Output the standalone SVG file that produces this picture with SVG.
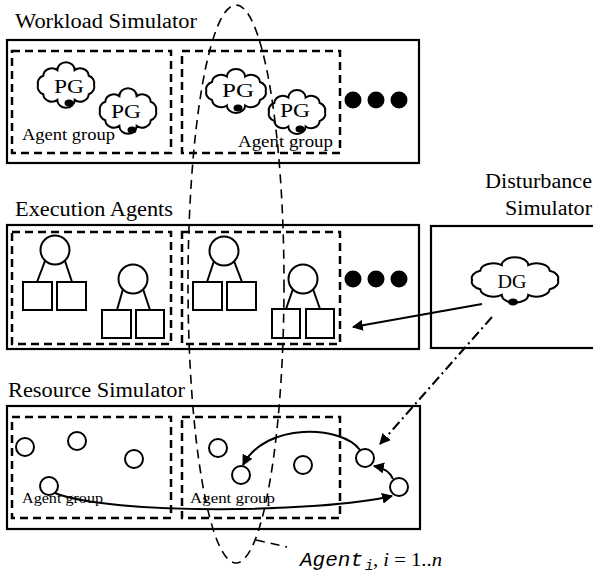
<svg xmlns="http://www.w3.org/2000/svg" xmlns:xlink="http://www.w3.org/1999/xlink" width="593" height="574" viewBox="0 0 593 574">
<style>
.box{fill:none;stroke:#000;stroke-width:2.2}
.grp{fill:none;stroke:#000;stroke-width:2.5;stroke-dasharray:8,5}
.title{font-family:"Liberation Serif","Times New Roman",serif;font-size:20px;fill:#000}
.lbl{font-family:"Liberation Serif","Times New Roman",serif;font-size:16px;fill:#000}
.pg{font-family:"Liberation Serif","Times New Roman",serif;font-size:18px;fill:#000;text-anchor:middle}
.dot{fill:#000}
.nd{fill:#fff;stroke:#000;stroke-width:2}
.ln{stroke:#000;stroke-width:2;fill:none}
.res{fill:#fff;stroke:#000;stroke-width:2}
.conn{fill:none;stroke:#000;stroke-width:2}
.cloud{fill:#fff;stroke:#000;stroke-width:2;vector-effect:non-scaling-stroke}
</style>
<defs>
<path id="cloud" class="cloud" d="M26,0 A8,8 0 0 1 21.03,9.4 A8,8 0 0 1 8.03,15.22 A8,8 0 0 1 -8.03,15.22 A8,8 0 0 1 -21.03,9.4 A8,8 0 0 1 -26,0 A8,8 0 0 1 -21.03,-9.4 A8,8 0 0 1 -8.03,-15.22 A8,8 0 0 1 8.03,-15.22 A8,8 0 0 1 21.03,-9.4 A8,8 0 0 1 26,0 Z"/>
<marker id="arr" viewBox="0 0 10 10" refX="9" refY="5" markerWidth="5.5" markerHeight="5.5" orient="auto" markerUnits="strokeWidth">
<path d="M0,0 L10,5 L0,10 Z" fill="#000"/>
</marker>
</defs>
<rect width="593" height="574" fill="#fff"/>

<g id="workload-simulator">
<text class="title" x="15" y="28" textLength="182" lengthAdjust="spacingAndGlyphs">Workload Simulator</text>
<rect class="box" x="7" y="40" width="412" height="123"/>
<g id="ws-group-1">
<rect class="grp" x="12" y="51" width="159" height="102"/>
<use xlink:href="#cloud" transform="translate(66,85) scale(1.08,0.98)"/>
<ellipse cx="69" cy="103" rx="4.5" ry="3.5" class="dot"/>
<text class="pg" x="69" y="93" textLength="30" lengthAdjust="spacingAndGlyphs">PG</text>
<use xlink:href="#cloud" transform="translate(128,111) scale(1.08,0.98)"/>
<ellipse cx="132" cy="130" rx="4.5" ry="3.5" class="dot"/>
<text class="pg" x="126" y="118" textLength="30" lengthAdjust="spacingAndGlyphs">PG</text>
<text class="lbl" x="22" y="140" textLength="93" lengthAdjust="spacingAndGlyphs">Agent group</text>
</g>
<g id="ws-group-2">
<rect class="grp" x="182" y="51" width="158" height="102"/>
<use xlink:href="#cloud" transform="translate(236,91) scale(1.14,0.95)"/>
<ellipse cx="238" cy="108" rx="4.5" ry="3.5" class="dot"/>
<text class="pg" x="238" y="97" textLength="32" lengthAdjust="spacingAndGlyphs">PG</text>
<use xlink:href="#cloud" transform="translate(297,112) scale(1.08,0.95)"/>
<ellipse cx="300" cy="129" rx="4.5" ry="3.5" class="dot"/>
<text class="pg" x="295" y="117" textLength="30" lengthAdjust="spacingAndGlyphs">PG</text>
<text class="lbl" x="238" y="147" textLength="95" lengthAdjust="spacingAndGlyphs">Agent group</text>
</g>
<circle class="dot" cx="353" cy="100" r="8.5"/>
<circle class="dot" cx="376" cy="100" r="8.5"/>
<circle class="dot" cx="399" cy="100" r="8.5"/>
</g>

<g id="execution-agents">
<text class="title" x="15" y="216" textLength="158" lengthAdjust="spacingAndGlyphs">Execution Agents</text>
<rect class="box" x="7" y="225" width="412" height="124"/>
<g id="ea-group-1">
<rect class="grp" x="12" y="232" width="159" height="112"/>
<line class="ln" x1="45" y1="261" x2="37" y2="282"/>
<line class="ln" x1="65" y1="261" x2="72" y2="282"/>
<circle class="nd" cx="55" cy="250" r="14.5"/>
<rect class="nd" x="23" y="282" width="29" height="28"/>
<rect class="nd" x="57" y="282" width="29" height="28"/>
<line class="ln" x1="123" y1="289" x2="117" y2="310"/>
<line class="ln" x1="143" y1="289" x2="150" y2="310"/>
<circle class="nd" cx="133" cy="279" r="14.5"/>
<rect class="nd" x="102" y="310" width="29" height="28"/>
<rect class="nd" x="136" y="310" width="28" height="28"/>
</g>
<g id="ea-group-2">
<rect class="grp" x="182" y="232" width="158" height="112"/>
<line class="ln" x1="214" y1="261" x2="207" y2="282"/>
<line class="ln" x1="234" y1="261" x2="242" y2="282"/>
<circle class="nd" cx="224" cy="251" r="14.5"/>
<rect class="nd" x="193" y="282" width="29" height="28"/>
<rect class="nd" x="227" y="282" width="29" height="28"/>
<line class="ln" x1="293" y1="289" x2="286" y2="309"/>
<line class="ln" x1="313" y1="289" x2="320" y2="309"/>
<circle class="nd" cx="303" cy="279" r="14.5"/>
<rect class="nd" x="272" y="309" width="28" height="29"/>
<rect class="nd" x="306" y="309" width="28" height="29"/>
</g>
<circle class="dot" cx="353" cy="279" r="8.5"/>
<circle class="dot" cx="376" cy="279" r="8.5"/>
<circle class="dot" cx="399" cy="279" r="8.5"/>
</g>

<g id="disturbance-simulator">
<text class="title" x="485" y="188" textLength="107" lengthAdjust="spacingAndGlyphs">Disturbance</text>
<text class="title" x="505" y="215" textLength="87" lengthAdjust="spacingAndGlyphs">Simulator</text>
<rect class="box" x="431" y="226" width="170" height="122"/>
<use xlink:href="#cloud" transform="translate(515,280) scale(1.65,0.98)"/>
<ellipse cx="513" cy="302" rx="5" ry="3.5" class="dot"/>
<text class="pg" x="512" y="288" textLength="29" lengthAdjust="spacingAndGlyphs">DG</text>
</g>

<g id="resource-simulator">
<text class="title" x="8" y="397" textLength="177" lengthAdjust="spacingAndGlyphs">Resource Simulator</text>
<rect class="box" x="7" y="406" width="413" height="123"/>
<g id="rs-group-1">
<rect class="grp" x="12" y="417" width="159" height="101"/>
<circle class="res" cx="25" cy="447" r="9"/>
<circle class="res" cx="77" cy="441" r="9"/>
<circle class="res" cx="134" cy="459" r="9"/>
<circle class="res" cx="49" cy="486" r="9"/>
<text class="lbl" style="font-size:15px" x="22" y="503" textLength="81" lengthAdjust="spacingAndGlyphs">Agent group</text>
</g>
<g id="rs-group-2">
<rect class="grp" x="182" y="417" width="158" height="101"/>
<circle class="res" cx="218" cy="448" r="9"/>
<circle class="res" cx="241" cy="475" r="9"/>
<circle class="res" cx="303" cy="465" r="9"/>
<text class="lbl" style="font-size:15px" x="190" y="503" textLength="85" lengthAdjust="spacingAndGlyphs">Agent group</text>
</g>
<circle class="res" cx="365" cy="458" r="9"/>
<circle class="res" cx="399" cy="487" r="9"/>
</g>

<g id="connectors">
<path class="conn" d="M482,304 L353,327" marker-end="url(#arr)"/>
<path class="conn" d="M492,317 L380,444" stroke-dasharray="10,4,2,4" marker-end="url(#arr)"/>
<path class="conn" d="M360,450 C342,425 265,422 243,465" marker-end="url(#arr)"/>
<path class="conn" d="M393,479 Q389,469 374,466" marker-end="url(#arr)"/>
<path class="conn" d="M55,493 C110,515 320,513 392,496" marker-end="url(#arr)"/>
</g>

<g id="agent-ellipse">
<ellipse cx="236" cy="284" rx="48" ry="279" fill="none" stroke="#000" stroke-width="1.6" stroke-dasharray="9,6"/>
<line x1="256" y1="540" x2="287" y2="547" stroke="#000" stroke-width="1.6" stroke-dasharray="9,6"/>
<text x="300" y="566" font-family="'Liberation Mono','Courier New',monospace" font-style="italic" font-size="20" textLength="63" lengthAdjust="spacingAndGlyphs">Agent</text>
<text x="365" y="570" font-family="'Liberation Mono','Courier New',monospace" font-style="italic" font-size="14">i</text>
<text x="373" y="566" font-family="'Liberation Serif','Times New Roman',serif" font-size="19" textLength="69" lengthAdjust="spacingAndGlyphs">, <tspan font-style="italic">i</tspan> = 1..<tspan font-style="italic">n</tspan></text>
</g>
</svg>
